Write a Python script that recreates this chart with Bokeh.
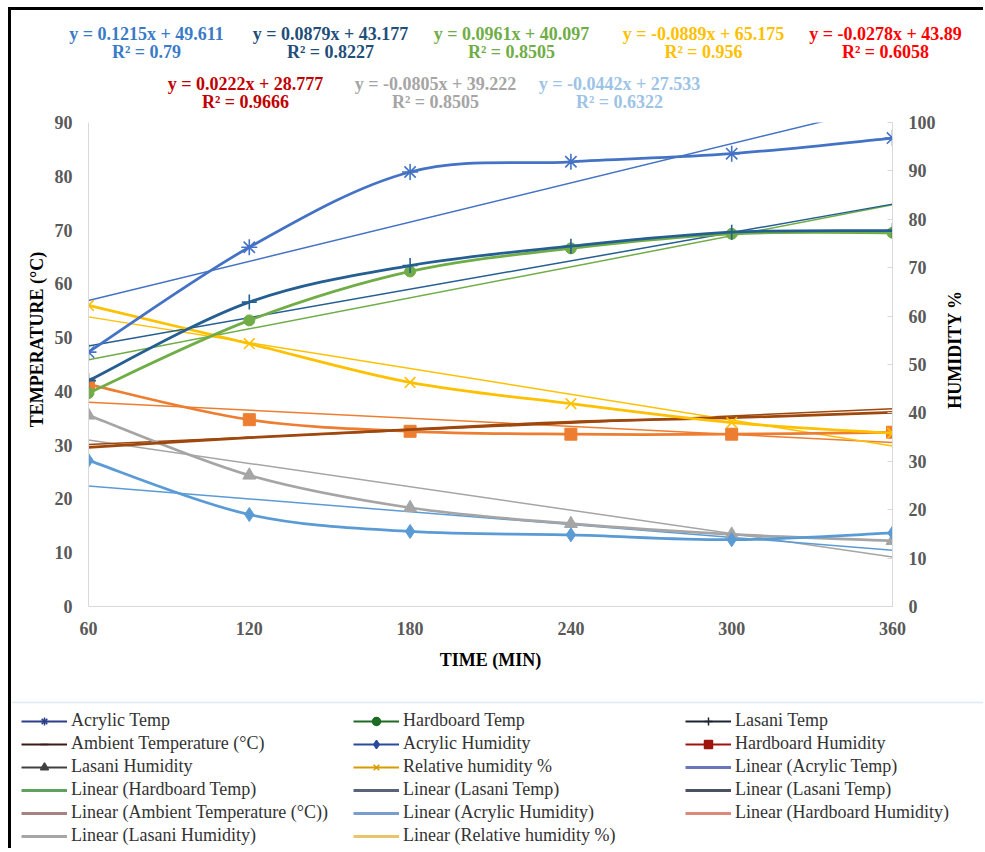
import math
from bokeh.plotting import figure
from bokeh.layouts import column, row
from bokeh.models import (Range1d, LinearAxis, FixedTicker, Legend, LegendItem,
                          Span, ColumnDataSource)
from bokeh.core.properties import value
from bokeh.embed import file_html
from bokeh.resources import INLINE

# ---------------- data ----------------
time_min = [60, 120, 180, 240, 300, 360]

# temperature series (left axis, °C)
acrylic_temp = [47.3, 66.8, 80.8, 82.7, 84.2, 87.1]
hardboard_temp = [39.7, 53.2, 62.3, 66.6, 69.3, 69.5]
lasani_temp = [42.0, 56.6, 63.4, 67.0, 69.6, 69.9]
ambient_temp = [29.6, 31.4, 32.9, 34.3, 35.1, 36.1]

# humidity series (right axis, %)
acrylic_hum = [30.2, 19.0, 15.5, 14.8, 13.8, 15.2]
hardboard_hum = [45.9, 38.6, 36.2, 35.6, 35.6, 36.0]
lasani_hum = [39.5, 27.1, 20.4, 17.1, 14.9, 13.6]
relative_hum = [62.2, 54.3, 46.3, 41.9, 38.0, 35.8]

# linear trendlines (slope, intercept, R²) as printed on the chart
trend_acrylic_temp = [0.1215, 49.611, 0.79]
trend_lasani_temp = [0.0879, 43.177, 0.8227]
trend_hardboard_temp = [0.0961, 40.097, 0.8505]
trend_relative_hum = [-0.0889, 65.175, 0.956]
trend_hardboard_hum = [-0.0278, 43.89, 0.6058]
trend_ambient_temp = [0.0222, 28.777, 0.9666]
trend_lasani_hum = [-0.0805, 39.222, 0.8505]
trend_acrylic_hum = [-0.0442, 27.533, 0.6322]

x_ticks = [60, 120, 180, 240, 300, 360]
temp_ticks = [0, 10, 20, 30, 40, 50, 60, 70, 80, 90]
hum_ticks = [0, 10, 20, 30, 40, 50, 60, 70, 80, 90, 100]

x_title = "TIME (MIN)"
left_title = "TEMPERATURE (°C)"
right_title = "HUMIDITY %"

legend_labels = ["Acrylic Temp", "Hardboard Temp", "Lasani Temp",
                 "Ambient Temperature (°C)", "Acrylic Humidity", "Hardboard Humidity",
                 "Lasani Humidity", "Relative humidity %", "Linear (Acrylic Temp)",
                 "Linear (Hardboard Temp)", "Linear (Lasani Temp)", "Linear (Lasani Temp)",
                 "Linear (Ambient Temperature (°C))", "Linear (Acrylic Humidity)",
                 "Linear (Hardboard Humidity)", "Linear (Lasani Humidity)",
                 "Linear (Relative humidity %)"]

# ---------------- layout constants ----------------
SERIF = "Liberation Serif"
W = 972
TOP_H = 102
LS_W, RS_W = 37, 39
FL, FT, FW, FH = 40, 10, 804, 484
FB = 94
FR = W - LS_W - RS_W - FL - FW
MAIN_H = FT + FH + FB
LEG_H = 148
NAN = float("nan")


def blank_fig(w, h):
    f = figure(width=w, height=h, output_backend="svg", toolbar_location=None,
               x_range=Range1d(0, w), y_range=Range1d(h, 0),
               min_border=0, x_axis_type=None, y_axis_type=None)
    f.outline_line_color = None
    f.grid.visible = False
    f.background_fill_color = "white"
    f.border_fill_color = "white"
    return f


def bold_text(f, xs, ys, texts, colors, angle=0.0):
    f.text(x="x", y="y", text="text", text_color="color",
           source=ColumnDataSource(dict(x=xs, y=ys, text=texts, color=colors)),
           text_font=value(SERIF), text_font_size="18px", text_font_style="bold",
           text_align="center", text_baseline="middle", angle=angle)


# ---------------- equations strip ----------------
top = blank_fig(W, TOP_H)
eq_specs = [
    (trend_acrylic_temp, "#3A7BC8", 135, 23),
    (trend_lasani_temp, "#1F4E79", 319, 23),
    (trend_hardboard_temp, "#70AD47", 500, 23),
    (trend_relative_hum, "#FFC000", 692, 23),
    (trend_hardboard_hum, "#FF0000", 874, 23),
    (trend_ambient_temp, "#C00000", 234, 73),
    (trend_lasani_hum, "#A5A5A5", 424, 73),
    (trend_acrylic_hum, "#9DC3E6", 608, 73),
]
ex, ey, et, ec = [], [], [], []
for tr, col, cx, cy in eq_specs:
    m, b, r2 = tr
    for txt, yy in ((f"y = {m}x + {b}", cy), (f"R² = {r2}", cy + 18)):
        ex.append(cx); ey.append(yy); et.append(txt); ec.append(col)
bold_text(top, ex, ey, et, ec)

# ---------------- side strips with the vertical axis titles ----------------
lstrip = blank_fig(LS_W, MAIN_H)
bold_text(lstrip, [25], [227], [left_title], ["#000000"], angle=math.pi / 2)
rstrip = blank_fig(RS_W, MAIN_H)
bold_text(rstrip, [10], [237], [right_title], ["#000000"], angle=math.pi / 2)

# ---------------- main chart ----------------
p = figure(frame_width=FW, frame_height=FH, output_backend="svg", toolbar_location=None,
           x_range=Range1d(60, 360), y_range=Range1d(0, 90),
           min_border_left=FL, min_border_right=FR, min_border_top=FT, min_border_bottom=FB,
           background_fill_color="white", border_fill_color="white")
p.outline_line_color = None
p.grid.visible = False
p.extra_y_ranges = {"hum": Range1d(0, 100)}


def style_axis(ax, standoff):
    ax.axis_line_color = "#D9D9D9"
    ax.major_tick_line_color = "#D9D9D9"
    ax.minor_tick_line_color = None
    ax.major_tick_in = 0
    ax.major_tick_out = 0
    ax.major_label_text_font = SERIF
    ax.major_label_text_font_size = "18px"
    ax.major_label_text_font_style = "bold"
    ax.major_label_text_color = "#595959"
    ax.major_label_standoff = standoff
    ax.axis_label_text_font = SERIF
    ax.axis_label_text_font_size = "18px"
    ax.axis_label_text_font_style = "bold"
    ax.axis_label_text_color = "#000000"


p.xaxis.ticker = FixedTicker(ticks=x_ticks)
p.yaxis.ticker = FixedTicker(ticks=temp_ticks)
style_axis(p.xaxis[0], 15)
style_axis(p.yaxis[0], 16)
p.xaxis.axis_label = x_title
p.xaxis.axis_label_standoff = 12

rax = LinearAxis(y_range_name="hum", ticker=FixedTicker(ticks=hum_ticks))
style_axis(rax, 16)
rax.major_tick_in = 5
p.add_layout(rax, "right")


def smooth(xs, ys):
    n = len(xs)
    d = dict(x0=[], y0=[], x1=[], y1=[], cx0=[], cy0=[], cx1=[], cy1=[])
    for i in range(n - 1):
        xp, yp = (xs[i - 1], ys[i - 1]) if i > 0 else (xs[i], ys[i])
        xn, yn = (xs[i + 2], ys[i + 2]) if i + 2 < n else (xs[i + 1], ys[i + 1])
        d["x0"].append(xs[i]); d["y0"].append(ys[i])
        d["x1"].append(xs[i + 1]); d["y1"].append(ys[i + 1])
        d["cx0"].append(xs[i] + (xs[i + 1] - xp) / 6.0)
        d["cy0"].append(ys[i] + (ys[i + 1] - yp) / 6.0)
        d["cx1"].append(xs[i + 1] - (xn - xs[i]) / 6.0)
        d["cy1"].append(ys[i + 1] - (yn - ys[i]) / 6.0)
    return ColumnDataSource(d)


series = [
    (lasani_hum, "hum", "#A5A5A5", "triangle", 13, trend_lasani_hum),
    (acrylic_hum, "hum", "#5B9BD5", "diamond", 14, trend_acrylic_hum),
    (hardboard_hum, "hum", "#ED7D31", "square", 12, trend_hardboard_hum),
    (ambient_temp, "default", "#9E480E", "dash", 8, trend_ambient_temp),
    (relative_hum, "hum", "#FFC000", "x", 15, trend_relative_hum),
    (hardboard_temp, "default", "#70AD47", "circle", 11, trend_hardboard_temp),
    (lasani_temp, "default", "#255E91", "cross", 15, trend_lasani_temp),
    (acrylic_temp, "default", "#4472C4", "asterisk", 16, trend_acrylic_temp),
]

for vals, rng, col, mk, sz, tr in series:
    m, b, _ = tr
    xe = [time_min[0], time_min[-1]]
    ye = [m * xv + b for xv in xe]
    p.line(xe, ye, line_color=col, line_width=1.5, y_range_name=rng)

for vals, rng, col, mk, sz, tr in series:
    p.bezier(x0="x0", y0="y0", x1="x1", y1="y1", cx0="cx0", cy0="cy0", cx1="cx1", cy1="cy1",
             source=smooth(time_min, vals), line_color=col, line_width=2.75, y_range_name=rng)
    lw = 1.6 if mk in ("asterisk", "x", "cross", "dash") else 1
    p.scatter(time_min, vals, marker=mk, size=sz, fill_color=col, line_color=col,
              line_width=lw, y_range_name=rng)

# ---------------- legend strip ----------------
leg = blank_fig(W, LEG_H)
leg.add_layout(Span(location=2, dimension="width", line_color="#DCE9F6", line_width=1.5))
legend_styles = [
    ("#2B3F8C", "asterisk"), ("#1E6B24", "circle"), ("#1C2433", "cross"),
    ("#3A1C14", "dash"), ("#2A4A9A", "diamond"), ("#A0140F", "square"),
    ("#404040", "triangle"), ("#D89B00", "x"), ("#6A78B8", None),
    ("#5DA35D", None), ("#5A6478", None), ("#4B5263", None),
    ("#A68282", None), ("#7A9CCF", None), ("#DB8A7A", None),
    ("#A6A6A6", None), ("#E8C46A", None),
]
items = []
for lab, (col, mk) in zip(legend_labels, legend_styles):
    rs = [leg.line([NAN], [NAN], line_color=col, line_width=2 if mk else 3)]
    if mk:
        rs.append(leg.scatter([NAN], [NAN], marker=mk, size=10, fill_color=col,
                              line_color=col, line_width=1.5))
    items.append(LegendItem(label=lab, renderers=rs, index=0))

legend = Legend(items=items, orientation="horizontal", ncols=3,
                location="top_left", margin=5, padding=5, spacing=2,
                glyph_width=46, glyph_height=20, label_height=20, label_width=280,
                label_standoff=4, label_text_font=SERIF, label_text_font_size="18px",
                label_text_color="#333333", background_fill_alpha=0,
                border_line_alpha=0)
leg.add_layout(legend, "center")

middle = row(column(lstrip), column(p), column(rstrip), spacing=0)
layout = column(column(top), middle, column(leg), spacing=0)
layout.styles = {"margin-left": "8px", "margin-top": "7px",
                 "border-top": "3px solid black", "border-left": "3px solid black"}

open("out.html", "w").write(file_html(layout, INLINE))
